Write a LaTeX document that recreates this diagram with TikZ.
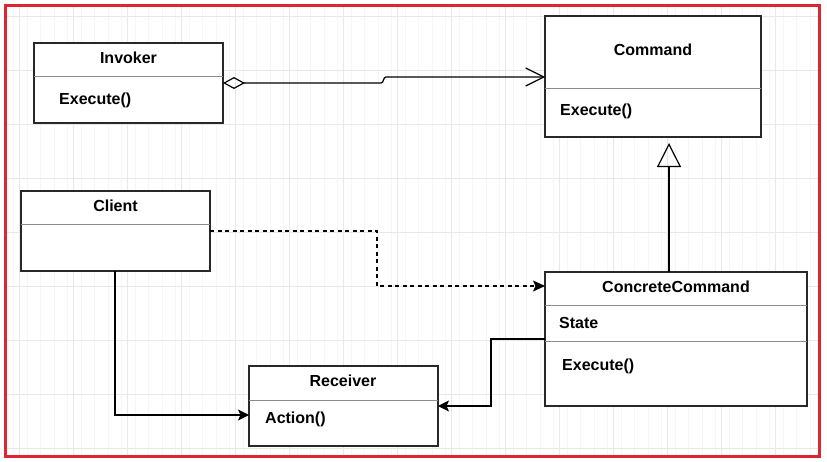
\documentclass[tikz,border=0pt]{standalone}
\usepackage{fontspec}
\setmainfont{Liberation Sans}
\usetikzlibrary{arrows.meta}
\definecolor{bordered}{RGB}{222,38,50}
\definecolor{boxline}{RGB}{40,40,40}
\definecolor{divline}{RGB}{140,140,140}
\tikzset{
  umlbox/.style={draw=boxline, line width=1.3pt, fill=white, anchor=north west, inner sep=0pt, outer sep=0pt},
  divider/.style={draw=divline, line width=0.9pt},
  title/.style={font=\fontsize{16}{18}\selectfont\bfseries, inner sep=0pt},
  member/.style={font=\fontsize{16}{18}\selectfont\bfseries, inner sep=0pt, anchor=west},
  conn/.style={draw=black, line width=1.2pt},
}
\begin{document}
\begin{tikzpicture}[x=1pt,y=-1pt]
\useasboundingbox (0,0) rectangle (827,461);
\fill[white] (0,0) rectangle (827,461);
% grid
\draw[gray!7, line width=0.5pt, step=13.5] (5,5) grid (819,456);
\foreach \x in {19,73,...,800} \draw[gray!18, line width=0.7pt] (\x,5) -- (\x,456);
\foreach \y in {16,70,...,450} \draw[gray!18, line width=0.7pt] (5,\y) -- (819,\y);
\draw[bordered, line width=3pt] (5,5) rectangle (819.5,456.5);

% boxes
\node[umlbox, minimum width=189pt, minimum height=80pt] (inv) at (34,43) {};
\draw[divider] (34,76) -- (223,76);
\node[title] (invt) at (128.5,58) {Invoker};
\node[member] (invm) at (59,100) {Execute()};

\node[umlbox, minimum width=216pt, minimum height=121pt] (cmd) at (545,16) {};
\draw[divider] (545,88) -- (761,88);
\node[title] (cmdt) at (653,50) {Command};
\node[member] (cmdm) at (560,111) {Execute()};

\node[umlbox, minimum width=189pt, minimum height=80pt] (cli) at (21,191) {};
\draw[divider] (21,224) -- (210,224);
\node[title] (clit) at (115.5,206) {Client};

\node[umlbox, minimum width=262pt, minimum height=134pt] (cc) at (545,272) {};
\draw[divider] (545,305) -- (807,305);
\draw[divider] (545,341) -- (807,341);
\node[title] (cct) at (676,287) {ConcreteCommand};
\node[member] (ccs) at (559,323) {State};
\node[member] (ccm) at (562,366) {Execute()};

\node[umlbox, minimum width=189pt, minimum height=80pt] (rec) at (249,366) {};
\draw[divider] (249,400) -- (438,400);
\node[title] (rect) at (343,381) {Receiver};
\node[member] (recm) at (265,419) {Action()};

% connectors
\coordinate (jog1) at (381,83);
\coordinate (jog2) at (386,77);
\draw[conn, {Diamond[open,length=22pt,width=12pt]}-{Straight Barb[length=18pt,width=18pt]}]
  (inv.east |- 0,83) -- (jog1) .. controls (384,83) and (383,77) .. (jog2) -- (cmd.west |- 0,77);

\coordinate (tri) at (669,143);
\draw[conn, -{Triangle[open,length=24pt,width=24pt]}] (cc.north -| tri) -- (tri);

\draw[conn, dashed, dash pattern=on 4pt off 3.5pt, -{Stealth[length=12pt,width=11pt,inset=2.5pt]}]
  (cli.east |- 0,231) -| (377,286) -- (cc.west |- 0,286);

\draw[conn, -{Stealth[length=11pt,width=11pt,inset=2.5pt]}]
  (cli.south -| 115,0) |- (rec.west |- 0,415);

\draw[conn, -{Stealth[length=11pt,width=11pt,inset=2.5pt]}]
  (cc.west |- 0,339) -| (491,406) -- (rec.east |- 0,406);
\end{tikzpicture}
\end{document}
